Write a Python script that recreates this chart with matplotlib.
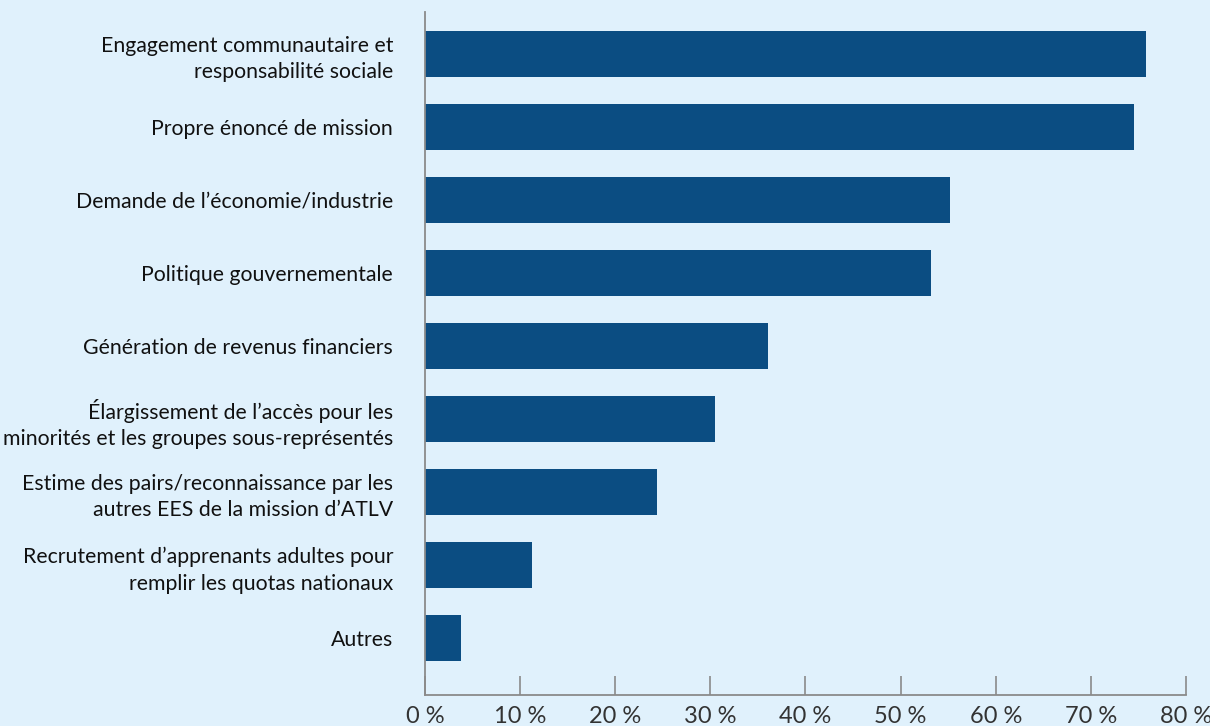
import matplotlib.pyplot as plt
from matplotlib.ticker import FuncFormatter

# Motivations, top to bottom, and share of institutions (%)
categories = [
    "Engagement communautaire et\nresponsabilité sociale",
    "Propre énoncé de mission",
    "Demande de l’économie/industrie",
    "Politique gouvernementale",
    "Génération de revenus financiers",
    "Élargissement de l’accès pour les\nminorités et les groupes sous-représentés",
    "Estime des pairs/reconnaissance par les\nautres EES de la mission d’ATLV",
    "Recrutement d’apprenants adultes pour\nremplir les quotas nationaux",
    "Autres",
]
values = [75.8, 74.5, 55.2, 53.2, 36.1, 30.5, 24.4, 11.2, 3.8]
xticks = [0, 10, 20, 30, 40, 50, 60, 70, 80]

bg = "#E0F1FC"
bar_color = "#0B4D82"
axis_color = "#8A8A8A"

plt.rcParams['font.family'] = ['Lato', 'DejaVu Sans']

fig = plt.figure(figsize=(12.1, 7.26), dpi=100, facecolor=bg)
ax = fig.add_axes([0.3512, 0.0427, 0.629, 0.9408], facecolor=bg)

pos = list(range(len(categories)))
ax.barh(pos, values, height=0.63, color=bar_color)

ax.set_ylim(len(categories) - 1 + 0.78, -0.575)
ax.set_xlim(0, 80)
ax.set_xticks(xticks)
ax.xaxis.set_major_formatter(FuncFormatter(lambda v, p: f"{v:.0f} %"))
ax.set_yticks(pos)
ax.set_yticklabels(categories, fontsize=15.3, linespacing=1.4)

for s in ["top", "right"]:
    ax.spines[s].set_visible(False)
for s in ["left", "bottom"]:
    ax.spines[s].set_color(axis_color)
    ax.spines[s].set_linewidth(1.3)

ax.tick_params(axis="x", direction="in", length=14, width=1.2, color=axis_color,
               labelsize=17, labelcolor="#333333", pad=8)
ax.tick_params(axis="y", length=0, pad=23, labelcolor="#111111")

fig.savefig("out.png", dpi=100, facecolor=bg)
